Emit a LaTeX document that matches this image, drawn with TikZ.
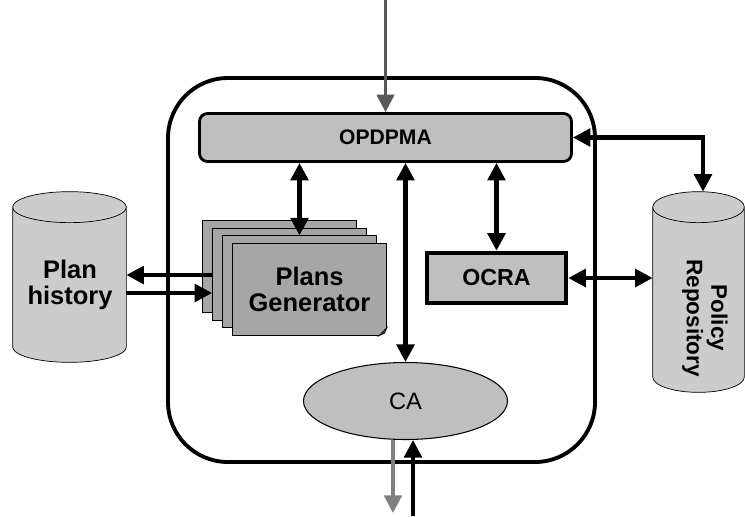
\documentclass[tikz,border=0pt]{standalone}
\usepackage{fontspec}
\setmainfont{Liberation Sans}
\usetikzlibrary{arrows.meta,shapes.geometric,calc}

\begin{document}
\begin{tikzpicture}[>={Triangle[length=10pt,width=10pt]},
	lbl/.style={font=\fontsize{12}{14}\selectfont\bfseries,align=center},
	link/.style={<->,line width=2.4pt},
	page/.style={draw,thin,fill=black!35,minimum width=3.08cm,minimum height=1.84cm,inner sep=0pt},
	store/.style={inner sep=0pt}]
	\useasboundingbox (0,0) rectangle (14.9,10.32);
	\draw[line width=2.2pt,rounded corners=1.2cm] (3.36,1.08) rectangle (11.9,8.76);
	\node[lbl,draw,line width=1.6pt,rounded corners=0.16cm,fill=black!25,minimum width=7.44cm,minimum height=0.96cm] (opdpma) at (7.71,7.57) {OPDPMA};
	\foreach \k in {3,2,1} \node[page] (pg\k) at ({6.19-0.2*\k},{4.53+0.155*\k}) {};
	\node[page,lbl,font=\fontsize{14.5}{15}\selectfont\bfseries] (pg0) at (6.19,4.53) {Plans\\Generator};
	\fill[white] (pg0.south east) -- ++(-0.16,0) -- ++(0.16,0.16) -- cycle;
	\draw[thin,fill=black!70] ([xshift=-0.16cm]pg0.south east) -- ([yshift=0.16cm]pg0.south east) -- ([xshift=-0.05cm,yshift=0.05cm]pg0.south east) -- cycle;
	\node[lbl,draw,line width=2.6pt,fill=black!25,minimum width=2.78cm,minimum height=1.0cm,font=\fontsize{13.2}{14}\selectfont\bfseries] (ocra) at (9.93,4.76) {OCRA};
	\node[ellipse,draw,semithick,fill=black!25,minimum width=4.08cm,minimum height=1.54cm,font=\fontsize{13.5}{14}\selectfont] (ca) at (8.11,2.3) {CA};
	\node[store,minimum width=2.26cm,minimum height=3.4cm] (hist) at (1.39,4.78) {};
	\node[store,minimum width=1.82cm,minimum height=4.0cm] (policy) at (13.97,4.48) {};
	\foreach \s in {hist,policy} {
		\draw[thin,fill=black!20] let \p1=(\s.west), \p2=(\s.east), \n1={(\x2-\x1)/2} in
			([yshift=-0.31cm]\s.north west) -- ([yshift=0.31cm]\s.south west) arc[start angle=180,end angle=360,x radius=\n1,y radius=0.31cm]
			-- ([yshift=-0.31cm]\s.north east) arc[start angle=0,end angle=180,x radius=\n1,y radius=0.31cm] -- cycle
			([yshift=-0.31cm]\s.north west) arc[start angle=180,end angle=360,x radius=\n1,y radius=0.31cm];
	}
	\node[lbl,font=\fontsize{14.5}{15}\selectfont\bfseries] (histtext) at (1.4,4.62) {Plan\\history};
	\node[lbl,rotate=-90,font=\fontsize{12.8}{14}\selectfont\bfseries] (policytext) at (14.1,3.96) {Policy\\Repository};
	\coordinate (in) at (7.71,10.32);
	\coordinate (out) at (7.86,0.06);
	\coordinate (back) at (8.26,0);
	\draw[->,line width=1.8pt,black!65] (in) -- (opdpma.north);
	\draw[link] (opdpma.south -| pg1.north) -- (pg1.north);
	\draw[link] (opdpma.south -| ocra.north) -- (ocra.north);
	\draw[link] (opdpma.south -| ca.north) -- (ca.north);
	\draw[link] (opdpma.east) -| ([xshift=0.09cm]policy.north);
	\draw[link] (ocra.east) -- (ocra.east -| policy.west);
	\draw[->,line width=2.4pt] ([yshift=0.04cm]hist.east -| pg2.west) -- ([yshift=0.04cm]hist.east);
	\draw[->,line width=2.4pt] ([yshift=-0.32cm]hist.east) -- ([yshift=-0.32cm]hist.east -| pg2.west);
	\draw[->,line width=1.8pt,black!50] ([xshift=-0.25cm]ca.south) -- (out);
	\draw[->,line width=2.2pt] (back) -- ([xshift=0.15cm]ca.south);
\end{tikzpicture}
\end{document}
